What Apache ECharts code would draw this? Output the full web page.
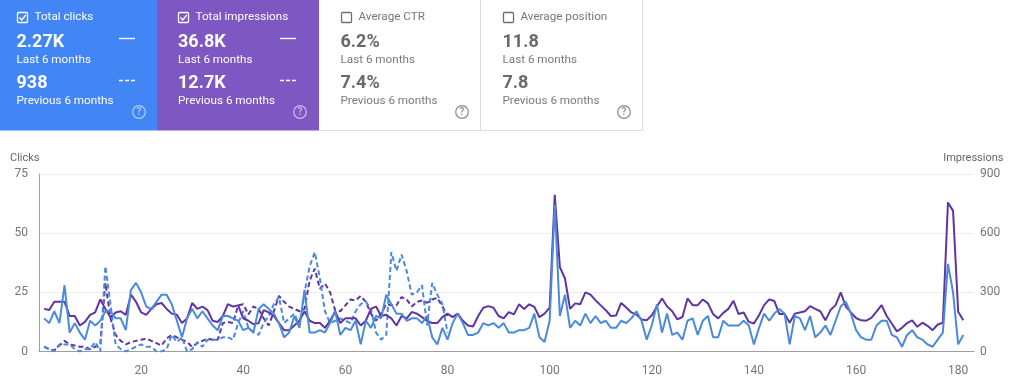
<!DOCTYPE html>
<html><head><meta charset="utf-8">
<script src="https://cdn.jsdelivr.net/npm/echarts@6/dist/echarts.min.js"></script>
<style>html,body{margin:0;padding:0;background:#fff}#c{width:1013px;height:385px}</style>
</head><body><div id="c"></div>
<script>
const clicksCurrent=[14,12,17,12,28,8,12,8,5,13,11,13,17,17,14,14,9,26,29,25,19,18,21,24,24,20,13,6,14,18,14,17,14,11,9,15,15,14,13,
9,10,8,18,20,18,16,12,6,8,15,10,26,8,8,9,8,12,17,7,10,9,13,3,13,10,15,14,24,20,16,16,13,14,14,12,15,6,3,10,5,12,
16,12,7,7,8,12,11,12,10,12,8,8,9,9,10,16,6,4,13,62,15,24,10,13,11,16,12,15,12,13,10,10,13,
12,14,17,13,5,11,20,8,16,7,8,5,13,14,7,13,15,6,6,13,11,11,11,13,11,
3,10,16,13,16,18,16,3,15,14,9,15,6,8,11,7,13,19,21,16,9,6,5,5,11,13,13,7,6,2,7,9,6,5,3,2,5,8,37,25,3,7];
const impressionsCurrent=[216,210,252,252,252,180,180,132,150,186,198,264,216,174,198,204,186,288,252,198,186,216,240,246,216,192,186,144,168,246,216,
228,210,156,150,180,240,228,234,168,156,138,144,210,198,180,144,108,108,132,156,204,156,144,144,120,156,
204,144,168,168,168,132,156,216,228,180,186,168,132,180,168,200,192,174,156,144,144,174,192,174,
192,156,132,127,180,222,230,222,180,168,200,188,239,216,239,226,174,192,222,795,428,370,216,244,240,300,288,259,234,209,180,182,246,
223,198,187,162,158,184,228,269,228,204,163,175,269,235,235,264,244,190,168,196,216,257,190,198,150,142,184,235,264,256,190,192,146,192,198,204,230,216,204,158,210,235,300,228,198,170,158,156,170,202,235,180,142,102,120,144,158,125,146,130,108,137,146,756,713,202,158];
const clicksPrevious=[2,1,0,3,3,3,1,0,1,1,4,0,36,20,3,1,0,1,2,3,2,2,0,0,1,7,4,6,0,1,4,2,5,5,5,6,6,5,12,
17,10,8,7,12,15,20,23,12,14,16,11,25,36,42,31,17,12,13,14,13,12,17,20,21,18,8,5,7,42,34,41,34,24,25,28,11,29,24,20,8];
const impressionsPrevious=[24,12,6,30,54,36,30,24,24,12,24,36,348,168,84,54,36,48,54,60,66,54,42,30,66,84,72,60,48,24,42,54,66,60,60,144,150,144,234,240,
188,228,216,168,132,204,282,252,228,216,204,216,360,420,318,344,300,209,204,234,264,259,282,252,192,156,192,240,234,234,276,264,228,252,259,247,264,272,228,180];
const cardTitles=['Total clicks','Total impressions','Average CTR','Average position'];
const cardCurrent=['2.27K','36.8K','6.2%','11.8'];
const cardPrevious=['938','12.7K','7.4%','7.8'];
const periodLabels=['Last 6 months','Previous 6 months'];
const axisNames=['Clicks','Impressions'];

const FONT='Roboto, sans-serif';
const cardX=[0,157,319,481], cardW=[157,162,162,161];
const cardFill=['#4285f4','#7e57c2','#fff','#fff'];
const g=[];
function txt(x,y,t,size,weight,fill,align){
  g.push({type:'text',silent:true,x:x,y:y,style:{text:t,font:(weight||400)+' '+size+'px '+FONT,fill:fill,textAlign:align||'left',textVerticalAlign:'middle'}});
}
cardTitles.forEach((t,i)=>{
  const on=i<2, x=cardX[i], w=cardW[i];
  const main=on?'#fff':'#696969', sub=on?'#fff':'#7a7a7a';
  g.push({type:'rect',silent:true,shape:{x:x,y:0,width:w,height:130.5},style:{fill:cardFill[i]}});
  const tx=x+(i===0?17:i===1?21:22);
  g.push({type:'rect',silent:true,shape:{x:tx+.5,y:12.5,width:10,height:10,r:1},style:{fill:'none',stroke:on?'#fff':'#6f6f6f',lineWidth:1.3}});
  if(on) g.push({type:'polyline',silent:true,shape:{points:[[tx+2.5,17.5],[tx+4.7,20],[tx+8.8,15]]},style:{fill:'none',stroke:'#fff',lineWidth:1.4}});
  const lx=x+(i===0?16.5:i===1?21:21.5);
  txt(tx+17.5,17.5,t,11.7,400,on?'#fff':'#777');
  txt(lx,42,cardCurrent[i],18,700,main);
  txt(lx,60.5,periodLabels[0],11.7,400,sub);
  txt(lx,83.5,cardPrevious[i],18,700,main);
  txt(lx,101.5,periodLabels[1],11.7,400,sub);
  if(on){
    g.push({type:'line',silent:true,shape:{x1:x+(i===0?119:123),y1:38.5,x2:x+(i===0?135:139),y2:38.5},style:{stroke:'#fff',lineWidth:1.4}});
    g.push({type:'line',silent:true,shape:{x1:x+(i===0?119:123),y1:80.5,x2:x+(i===0?135:139),y2:80.5},style:{stroke:'#fff',lineWidth:1.4,lineDash:[4,2]}});
  }
  const hx=x+(i===0?139:143);
  const hc=on?'rgba(255,255,255,.6)':'#8a8a8a';
  g.push({type:'circle',silent:true,shape:{cx:hx,cy:112,r:6.3},style:{fill:'none',stroke:hc,lineWidth:1.2}});
  txt(hx,112.5,'?',10,500,hc,'center');
});
g.push({type:'line',silent:true,shape:{x1:319,y1:130.5,x2:642.5,y2:130.5},style:{stroke:'#dcdcdc',lineWidth:1}});
g.push({type:'line',silent:true,shape:{x1:480.5,y1:0,x2:480.5,y2:130},style:{stroke:'#dcdcdc',lineWidth:1}});
g.push({type:'line',silent:true,shape:{x1:642.5,y1:0,x2:642.5,y2:130},style:{stroke:'#dcdcdc',lineWidth:1}});
txt(10,158.5,axisNames[0],11,400,'#666');
txt(1003.5,158.5,axisNames[1],11,400,'#666','right');

const pts=a=>a.map((v,i)=>[i+1,v]);
const line=(name,data,color,yIdx,dash,z)=>({name:name,type:'line',data:pts(data),xAxisIndex:0,yAxisIndex:yIdx,symbol:'none',smooth:false,z:z,
  lineStyle:{color:color,width:2,type:dash?[5,3]:'solid'},emphasis:{disabled:true}});
const axisLab={color:'#757575',fontSize:12,fontFamily:FONT};
const chart=echarts.init(document.getElementById('c'),null,{renderer:'canvas'});
chart.setOption({
  animation:false,backgroundColor:'#fff',
  grid:{left:39,right:39,top:174,bottom:33.5,containLabel:false},
  graphic:{elements:g},
  tooltip:{show:false},
  xAxis:{type:'value',min:0,max:183.1,interval:20,splitLine:{show:false},axisTick:{show:false},
    axisLine:{show:true,lineStyle:{color:'#9e9e9e',width:1.2}},
    axisLabel:Object.assign({},axisLab,{margin:13,showMinLabel:false,showMaxLabel:false})},
  yAxis:[
    {type:'value',position:'left',min:0,max:75,interval:25,
     axisLine:{show:true,onZero:false,lineStyle:{color:'#9e9e9e',width:1}},axisTick:{show:false},
     axisLabel:Object.assign({},axisLab,{margin:11}),splitLine:{show:true,lineStyle:{color:'#ececec',width:1}}},
    {type:'value',position:'right',min:0,max:900,interval:300,
     axisLine:{show:false},axisTick:{show:false},axisLabel:Object.assign({},axisLab,{margin:6}),splitLine:{show:false}}
  ],
  series:[
    line('Impressions previous',impressionsPrevious,'#5e35a1',1,true,2),
    line('Clicks previous',clicksPrevious,'#4a89dc',0,true,3),
    line('Impressions',impressionsCurrent,'#5e35a1',1,false,4),
    line('Clicks',clicksCurrent,'#4a89dc',0,false,5)
  ]
});
</script></body></html>
